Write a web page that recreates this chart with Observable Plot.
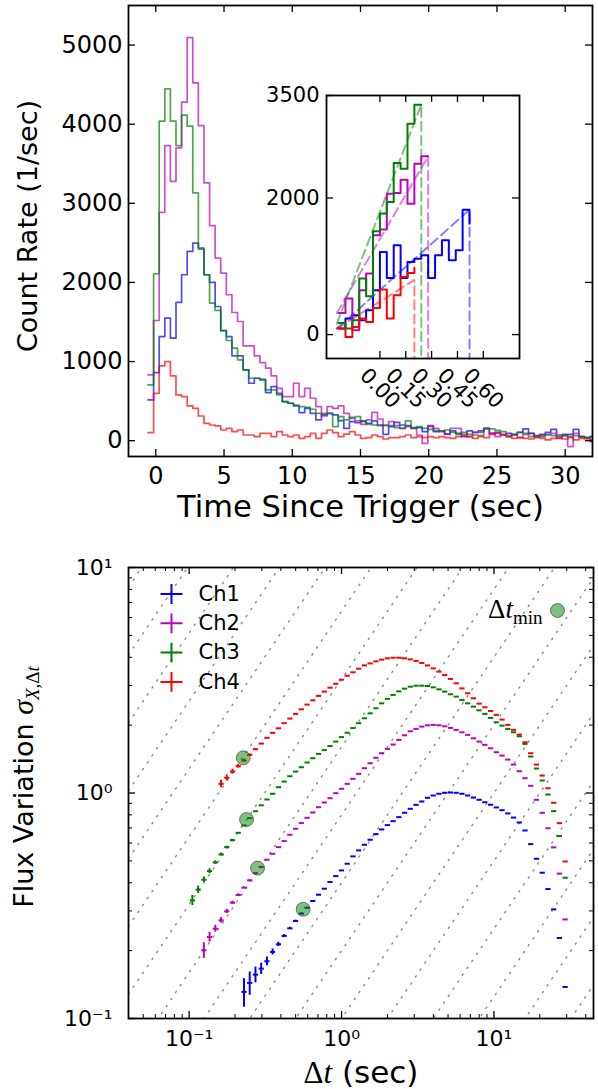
<!DOCTYPE html>
<html><head><meta charset="utf-8">
<script src="https://cdn.jsdelivr.net/npm/d3@7"></script>
<script src="https://cdn.jsdelivr.net/npm/@observablehq/plot@0.6"></script>
<style>
html,body{margin:0;padding:0;background:#fff;}
#wrap{position:relative;width:598px;height:1089px;overflow:hidden;font-family:'DejaVu Sans';background:#fff;}
#wrap > div{position:absolute;}
</style></head><body>
<div id="wrap"><div id="topPanel" style="left:0;top:0"></div><div id="bottomPanel" style="left:0;top:530px"></div><div id="insetPanel" style="left:260px;top:85px"></div></div>
<script>
(function () {
// ---------------- DATA ----------------
const channels = ["Ch1", "Ch2", "Ch3", "Ch4"];
const colors = ["#0000ff", "#bf00bf", "#008000", "#ff0000"];

// Light curve (count rate per 0.41 s bin), bins start at lcStart
const lcStart = -0.57, lcBinWidth = 0.41;
const lcCh1 = [515,861,1316,1549,1295,1747,2097,2392,2498,2435,2097,2000,1696,1392,1316,1072,1072,895,726,789,776,608,684,599,494,473,439,354,409,346,262,325,346,325,253,156,240,228,
  249,220,249,198,80,177,232,198,190,165,165,114,190,114,123,85,123,93,51,123,106,123,156,93,106,72,93,72,106,148,93,51,80,106,144,72,80,80,144,51,38,51];
const lcCh2 = [831,1519,2886,3730,3278,3700,4278,5093,4523,3983,3257,2717,2308,2118,1844,1620,1506,1198,1198,1072,987,916,819,662,557,557,726,557,662,536,430,312,430,409,439,346,283,253,
  207,262,358,274,190,241,190,156,177,156,72,-33,177,156,123,80,156,156,80,51,106,106,156,93,51,80,64,80,38,80,93,64,64,80,93,30,64,-75,93,51,38,-12];
const lcCh3 = [705,2110,4038,4447,4038,3730,4114,3975,3131,2422,2097,1738,1646,1392,1266,1169,1021,895,789,789,768,641,641,578,494,473,451,430,422,397,346,346,346,177,304,262,295,304,
  241,207,198,190,198,190,165,156,249,156,177,156,144,127,114,135,106,80,106,80,72,64,148,148,131,114,51,80,106,93,51,64,51,72,64,51,64,51,64,51,38,51];
const lcCh4 = [101,599,945,1000,819,578,557,439,409,312,219,198,186,135,156,114,135,72,72,51,93,93,51,114,72,51,72,30,51,93,30,93,135,101,51,84,114,72,
  30,38,72,51,21,38,38,51,72,38,51,38,51,38,51,38,30,51,64,51,30,51,38,80,93,72,51,30,38,30,21,38,30,9,30,38,21,38,9,30,21,9];
const lcXTicks = [0, 5, 10, 15, 20, 25, 30];
const lcYTicks = [0, 1000, 2000, 3000, 4000, 5000];

// Inset: fine 0.04 s bins
const insetStart = -0.24, insetBinWidth = 0.04;
const insetCh1 = [88,234,283,210,356,649,1210,829,1307,829,1063,1112,1161,829,1161,1380,1088,1234,1829];
const insetCh2 = [317,527,63,649,893,1454,1537,2063,2073,2268,1917,2502,2610];
const insetCh3 = [171,88,210,820,561,1512,1771,1941,2512,2429,3088,3366];
const insetCh4 = [88,-34,112,234,185,390,659,234,576,844,902];
const insetEndValue = [1624, 2610, 3366, 980];
const insetFitStartT = [-0.25, -0.25, -0.25, -0.25];
const insetFitStartV = [88, 317, 161, 88];
const insetFitEndT = [0.52, 0.28, 0.24, 0.20];
const insetFitEndV = [1829, 2610, 3366, 800];
const insetXTicks = [0, 0.15, 0.30, 0.45, 0.60];
const insetYTicks = [0, 2000, 3500];

// Structure function: shared timescale grid (sec)
const dtGrid = [0.1050,0.1145,0.1249,0.1362,0.1485,0.1619,0.1766,0.1926,0.2100,0.2290,
  0.2497,0.2723,0.2970,0.3239,0.3532,0.3852,0.4200,0.4580,0.4995,0.5447,
  0.5940,0.6478,0.7064,0.7704,0.8400,0.9161,0.9990,1.0894,1.1880,1.2955,
  1.4128,1.5407,1.6800,1.8321,1.9980,2.1789,2.3761,2.5912,2.8256,3.0815,
  3.3600,3.6642,3.9960,4.3577,4.7523,5.1824,5.6513,6.1630,6.7200,7.3284,
  7.9919,8.7154,9.5045,10.365,11.303,12.326,13.440,14.657,15.984,17.431,
  19.009,20.730,22.607,24.653,26.880,29.314];
const sfStartIndex = [9, 2, 0, 5];
const sfCh1 = [0.1312,0.1438,0.1565,0.1664,0.1794,0.1973,0.2133,0.2323,0.2511,0.2706,
  0.2917,0.31,0.3319,0.354,0.3763,0.4029,0.4281,0.4535,0.4857,0.5234,
  0.5564,0.5894,0.6204,0.657,0.6893,0.7205,0.75,0.7817,0.8169,0.851,
  0.886,0.917,0.952,0.975,0.992,1.002,1.005,1.002,0.992,0.975,
  0.955,0.933,0.91,0.887,0.863,0.839,0.812,0.778,0.74,0.682,
  0.5935,0.511,0.4431,0.375,0.3048,0.2275,0.138];
const sfCh2 = [0.2007,0.2298,0.2503,0.2725,0.2987,0.3263,0.3528,0.3802,
  0.4098,0.4414,0.4693,0.5058,0.5376,0.5754,0.6118,0.6527,0.694,0.7355,
  0.7763,0.8196,0.8652,0.908,0.948,0.998,1.044,1.098,1.156,1.216,
  1.288,1.355,1.432,1.501,1.569,1.64,1.72,1.803,1.878,1.924,
  1.97,1.997,2.005,1.997,1.976,1.944,1.905,1.859,1.81,1.748,
  1.691,1.635,1.579,1.516,1.466,1.407,1.337,1.249,1.163,1.076,
  0.933,0.817,0.698,0.574,0.439,0.275];
const sfCh3 = [0.334,0.3725,0.4125,0.4505,0.492,0.534,0.575,0.618,0.666,0.718,
  0.7735,0.83,0.882,0.936,0.992,1.061,1.124,1.187,1.245,1.301,
  1.365,1.426,1.491,1.55,1.615,1.69,1.77,1.85,1.94,2.04,
  2.145,2.256,2.375,2.498,2.614,2.722,2.823,2.902,2.962,2.992,
  2.992,2.982,2.942,2.882,2.816,2.74,2.676,2.586,2.498,2.416,
  2.326,2.243,2.153,2.059,1.99,1.924,1.859,1.785,1.651,1.451,
  1.284,1.136,0.985,0.831,0.644,0.421];
const sfCh4 = [1.098,1.168,1.245,1.314,1.393,
  1.476,1.563,1.656,1.756,1.848,1.936,2.04,2.138,2.243,2.35,
  2.466,2.577,2.695,2.816,2.93,3.05,3.18,3.31,3.43,3.56,
  3.68,3.757,3.835,3.902,3.954,3.98,3.98,3.954,3.914,3.851,
  3.773,3.68,3.57,3.452,3.338,3.205,3.064,2.911,2.767,2.63,
  2.49,2.4,2.31,2.22,2.116,2.005,1.905,1.816,1.679,1.501,
  1.337,1.195,1.05,0.905,0.735,0.497];
const sfErrCh1 = [0.019,0.017,0.0125,0.0095,0.008,0.006,0.0045,0.0035,0.003,0.0025,0.002];
const sfErrCh2 = [0.016,0.0115,0.009,0.0075,0.0065,0.0055,0.0045,0.0035,0.003];
const sfErrCh3 = [0.017,0.014,0.012,0.011,0.009,0.008,0.006,0.005];
const sfErrCh4 = [0.04,0.034,0.029,0.024,0.019,0.015,0.012];
const dtMinX = [0.56, 0.2812, 0.2382, 0.2263];
const dtMinY = [0.305, 0.4645, 0.763, 1.432];
const refLineNorm = [0.003125,0.00625,0.0125,0.025,0.05,0.1,0.2,0.4,0.8,1.6,3.2,6.4,12.8,25.6,51.2,102.4,204.8];
const sfXDomain = [0.04, 45];
const sfYDomain = [0.1, 10];
const sfMajor = [0.1, 1, 10];
const sfXMinor = [0.04,0.05,0.06,0.07,0.08,0.09,0.2,0.3,0.4,0.5,0.6,0.7,0.8,0.9,2,3,4,5,6,7,8,9,20,30,40];
const sfYMinor = [0.2,0.3,0.4,0.5,0.6,0.7,0.8,0.9,2,3,4,5,6,7,8,9];

// ---------------- HELPERS ----------------
function stepPoints(vals, start, width, endValue) {
  const pts = vals.map((v, i) => ({t: start + i * width, v}));
  pts.push({t: start + vals.length * width, v: endValue ?? vals[vals.length - 1]});
  return pts;
}
function frameTicks(xs, ys, len, fw, fh, sw = 1.3) {
  const m = [];
  if (xs) {
    m.push(Plot.tickX(xs, {x: d => d, insetTop: fh - len, stroke: "black", strokeWidth: sw}));
    m.push(Plot.tickX(xs, {x: d => d, insetBottom: fh - len, stroke: "black", strokeWidth: sw}));
  }
  if (ys) {
    m.push(Plot.tickY(ys, {y: d => d, insetRight: fw - len, stroke: "black", strokeWidth: sw}));
    m.push(Plot.tickY(ys, {y: d => d, insetLeft: fw - len, stroke: "black", strokeWidth: sw}));
  }
  return m;
}
const supMap = {"-": "\u207B", "0": "\u2070", "1": "\u00B9", "2": "\u00B2", "3": "\u00B3"};
const pow10 = d => "10" + String(Math.round(Math.log10(d))).split("").map(c => supMap[c]).join("");
const hDash = {draw(ctx, size) { const r = Math.sqrt(size / Math.PI); ctx.moveTo(-r, 0); ctx.lineTo(r, 0); }};
const plusSym = {draw(ctx, size) { const r = Math.sqrt(size / Math.PI); ctx.moveTo(-r, 0); ctx.lineTo(r, 0); ctx.moveTo(0, -0.9 * r); ctx.lineTo(0, 0.9 * r); }};
const baseStyle = (fs) => ({fontFamily: "'DejaVu Sans'", fontSize: fs, background: "transparent", overflow: "visible", color: "black"});
const SERIF = "'Liberation Serif', 'DejaVu Serif', serif";
const SANS = "'DejaVu Sans'";

function rich(el, parts) {
  const s = d3.select(el);
  s.text(null);
  for (const p of parts) {
    const ts = s.append("tspan").text(p.t);
    if (p.family) ts.attr("font-family", p.family);
    if (p.style) ts.attr("font-style", p.style);
    if (p.size) ts.attr("font-size", p.size);
    if (p.dy) ts.attr("dy", p.dy);
  }
}
function mathify(svg) {
  d3.select(svg).selectAll("text").each(function () {
    const t = this.textContent;
    if (t === "\u0394t (sec)") {
      rich(this, [{t: "\u0394", family: SERIF}, {t: "t", family: SERIF, style: "italic"}, {t: " (sec)", family: SANS}]);
    } else if (t === "Flux Variation \u03C3X,\u0394t") {
      rich(this, [{t: "Flux Variation ", family: SANS}, {t: "\u03C3", family: SERIF, style: "italic", size: 30},
        {t: "X,", family: SERIF, style: "italic", size: 19, dy: 6}, {t: "\u0394", family: SERIF, size: 19}, {t: "t", family: SERIF, style: "italic", size: 19}]);
    } else if (t === "\u0394tmin") {
      rich(this, [{t: "\u0394", family: SERIF}, {t: "t", family: SERIF, style: "italic"}, {t: "min", family: SERIF, size: 19, dy: 6}]);
    }
  });
}

// ---------------- TOP: light curve ----------------
const lcSeries = [lcCh1, lcCh2, lcCh3, lcCh4];
const topChart = Plot.plot({
  width: 598, height: 530, marginLeft: 128, marginRight: 6, marginTop: 5, marginBottom: 74,
  x: {domain: [-2, 32]}, y: {domain: [-200, 5500]},
  style: baseStyle("24px"),
  marks: [
    ...lcSeries.map((vals, c) => Plot.line(stepPoints(vals, lcStart, lcBinWidth), {
      x: "t", y: "v", curve: "step-after", stroke: colors[c], strokeOpacity: 0.7, strokeWidth: 1.7, clip: true})),
    ...frameTicks(lcXTicks, lcYTicks, 7, 464, 451),
    Plot.frame({stroke: "black", strokeWidth: 1.8}),
    Plot.axisX(lcXTicks, {tickSize: 0, tickPadding: 10, fontSize: 24, label: null, tickFormat: d => String(d)}),
    Plot.axisY(lcYTicks, {tickSize: 0, tickPadding: 6, fontSize: 24, label: null, tickFormat: d => String(d)}),
    Plot.text(["Time Since Trigger (sec)"], {frameAnchor: "bottom", dy: 51, lineAnchor: "middle", textAnchor: "middle", fontSize: 30.5}),
    Plot.text(["Count Rate (1/sec)"], {frameAnchor: "left", dx: -100, dy: -5, rotate: -90, lineAnchor: "middle", textAnchor: "middle", fontSize: 27})
  ]
});
document.getElementById("topPanel").appendChild(topChart);

// ---------------- INSET ----------------
const insetSeries = [insetCh1, insetCh2, insetCh3, insetCh4];
const insetYMin = -350;
const insetChart = Plot.plot({
  width: 270, height: 335, marginLeft: 66, marginTop: 10, marginRight: 11, marginBottom: 62,
  x: {domain: [-0.31, 0.81]}, y: {domain: [insetYMin, 3500]},
  style: baseStyle("21px"),
  marks: [
    Plot.frame({fill: "white"}),
    ...channels.map((ch, c) => Plot.line([
        {t: insetFitStartT[c], v: insetFitStartV[c]},
        {t: insetFitEndT[c], v: insetFitEndV[c]},
        {t: insetFitEndT[c], v: insetYMin}], {
      x: "t", y: "v", stroke: colors[c], strokeOpacity: 0.5, strokeWidth: 2, strokeDasharray: "9 5"})),
    ...insetSeries.map((vals, c) => Plot.line(stepPoints(vals, insetStart, insetBinWidth, insetEndValue[c]), {
      x: "t", y: "v", curve: "step-after", stroke: colors[c], strokeWidth: 2})),
    ...frameTicks(insetXTicks, insetYTicks, 7, 193, 263),
    Plot.frame({stroke: "black", strokeWidth: 1.8}),
    Plot.axisY(insetYTicks, {tickSize: 0, tickPadding: 7, fontSize: 21, label: null, tickFormat: d => String(d)}),
    Plot.axisX(insetXTicks, {tickSize: 0, tickPadding: 30, tickRotate: 45, textAnchor: "middle", lineAnchor: "middle",
      fontSize: 21, label: null, tickFormat: d => d.toFixed(2)})
  ]
});
document.getElementById("insetPanel").appendChild(insetChart);

// ---------------- BOTTOM: structure function ----------------
const sfSeries = [sfCh1, sfCh2, sfCh3, sfCh4];
const sfErrs = [sfErrCh1, sfErrCh2, sfErrCh3, sfErrCh4];
const sfData = sfSeries.map((vals, c) => vals.map((s, i) => ({dt: dtGrid[sfStartIndex[c] + i], s, e: sfErrs[c][i] ?? 0})));
const refLines = refLineNorm.flatMap(c => sfXDomain.map(x => ({c, x, y: c * x})));
const bottomChart = Plot.plot({
  width: 598, height: 559, marginLeft: 128, marginRight: 5, marginTop: 37, marginBottom: 71,
  x: {type: "log", domain: sfXDomain}, y: {type: "log", domain: sfYDomain},
  style: baseStyle("22px"),
  marks: [
    Plot.line(refLines, {x: "x", y: "y", z: "c", stroke: "#8a8a8a", strokeWidth: 1.4, strokeDasharray: "1.4 7", clip: true}),
    ...sfData.flatMap((d, c) => [
      Plot.ruleX(d.filter(p => p.e > 0), {x: "dt", y1: p => p.s - p.e, y2: p => p.s + p.e, stroke: colors[c], strokeWidth: 2}),
      Plot.dot(d, {x: "dt", y: "s", symbol: hDash, r: 2.6, stroke: colors[c], strokeWidth: 2, fill: "none"})
    ]),
    Plot.dot(dtMinX.map((x, i) => ({x, y: dtMinY[i]})), {x: "x", y: "y", r: 7, fill: "#008000", fillOpacity: 0.5, stroke: "#333", strokeOpacity: 0.6, strokeWidth: 1}),
    ...channels.map((ch, i) => Plot.dot([ch], {frameAnchor: "top-left", dx: 43, dy: 26.5 + 29.3 * i, symbol: plusSym, r: 11, stroke: colors[i], strokeWidth: 2, fill: "none"})),
    ...channels.map((ch, i) => Plot.text([ch], {frameAnchor: "top-left", dx: 70, dy: 26.5 + 29.3 * i, textAnchor: "start", lineAnchor: "middle", fontSize: 21})),
    Plot.dot(["min"], {frameAnchor: "top-right", dx: -36, dy: 43, r: 7, fill: "#008000", fillOpacity: 0.5, stroke: "#333", strokeOpacity: 0.6, strokeWidth: 1}),
    Plot.text(["\u0394tmin"], {frameAnchor: "top-right", dx: -51, dy: 42, textAnchor: "end", lineAnchor: "middle", fontSize: 27}),
    ...frameTicks(sfMajor, sfMajor, 7, 465, 451),
    ...frameTicks(sfXMinor, sfYMinor, 4, 465, 451, 1),
    Plot.frame({stroke: "black", strokeWidth: 1.8}),
    Plot.axisX(sfMajor, {tickSize: 0, tickPadding: 12, fontSize: 22, label: null, tickFormat: pow10}),
    Plot.axisY(sfMajor, {tickSize: 0, tickPadding: 16, fontSize: 22, label: null, tickFormat: pow10}),
    Plot.text(["\u0394t (sec)"], {frameAnchor: "bottom", dy: 55, lineAnchor: "middle", textAnchor: "middle", fontSize: 31}),
    Plot.text(["Flux Variation \u03C3X,\u0394t"], {frameAnchor: "left", dx: -104, dy: -6, rotate: -90, lineAnchor: "middle", textAnchor: "middle", fontSize: 27})
  ]
});
document.getElementById("bottomPanel").appendChild(bottomChart);
mathify(bottomChart);
})();
</script></body></html>
